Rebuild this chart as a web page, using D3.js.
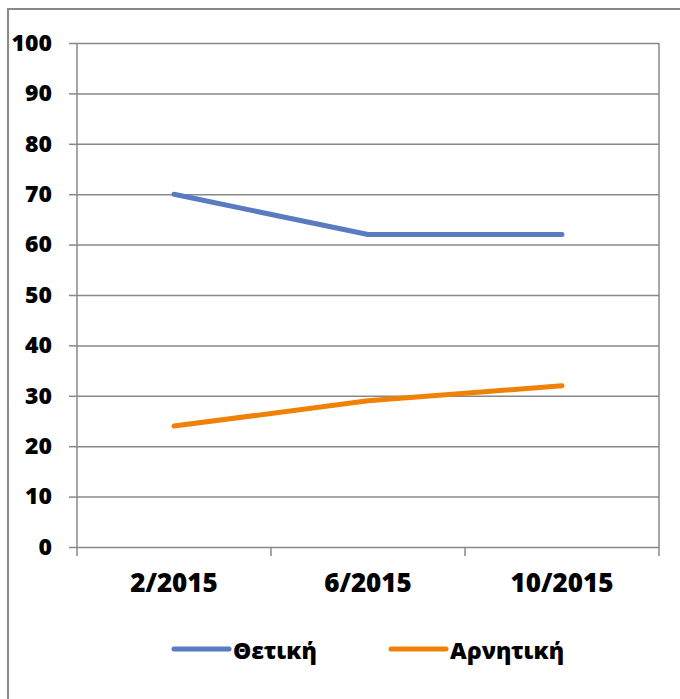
<!DOCTYPE html>
<html>
<head>
<meta charset="utf-8">
<script src="https://cdn.jsdelivr.net/npm/d3@7"></script>
<style>
  body { margin: 0; background: #fff; }
  svg text { font-family: "Open Sans", "Noto Sans", sans-serif; font-weight: 800; fill: #000; }
  .axis path { display: none; }
  .axis line { stroke: #888; stroke-width: 1.5; }
</style>
</head>
<body>
<div id="chart"></div>
<script>
// data
const categories = ['2/2015', '6/2015', '10/2015'];
const positive = [70, 62, 62];   // Θετική
const negative = [24, 29, 32];   // Αρνητική
const yTicks = [0, 10, 20, 30, 40, 50, 60, 70, 80, 90, 100];
const seriesNames = ['Θετική', 'Αρνητική'];
const seriesColors = ['#5A7BC1', '#EF8106'];

const width = 680;
const height = 699;
const plotLeft = 77, plotRight = 659, plotTop = 43, plotBottom = 547;

const svg = d3.select('#chart').append('svg')
  .attr('width', width)
  .attr('height', height);

// outer frame (only left/top visible in the picture)
svg.append('rect')
  .attr('x', 8).attr('y', 9)
  .attr('width', 700).attr('height', 720)
  .attr('fill', 'none')
  .attr('stroke', '#888')
  .attr('stroke-width', 2);

const x = d3.scaleBand().domain(categories).range([plotLeft, plotRight]);
const y = d3.scaleLinear().domain([0, 100]).range([plotBottom, plotTop]);

// y axis with gridlines
const yAxis = svg.append('g')
  .attr('class', 'axis')
  .attr('transform', `translate(${plotLeft},0)`)
  .call(d3.axisLeft(y).tickValues(yTicks).tickSize(8).tickPadding(17));
yAxis.selectAll('.tick text').style('font-size', '23px');
yAxis.selectAll('.tick')
  .append('line')
  .attr('x1', 0)
  .attr('x2', plotRight - plotLeft);

// vertical lines at band edges (axis line and ticks below)
const edges = categories.map((c) => x(c)).concat([plotRight]);
svg.selectAll('.edge')
  .data(edges)
  .enter()
  .append('line')
  .attr('class', 'edge')
  .attr('x1', (d) => d).attr('x2', (d) => d)
  .attr('y1', (d, i) => (i === 0 || i === edges.length - 1) ? plotTop : plotBottom)
  .attr('y2', plotBottom + 9)
  .attr('stroke', '#888')
  .attr('stroke-width', 1.5);

// category labels
svg.selectAll('.xlabel')
  .data(categories)
  .enter()
  .append('text')
  .attr('class', 'xlabel')
  .attr('x', (d) => x(d) + x.bandwidth() / 2)
  .attr('y', 592)
  .attr('text-anchor', 'middle')
  .style('font-size', '26px')
  .text((d) => d);

// lines
const line = d3.line()
  .x((d, i) => x(categories[i]) + x.bandwidth() / 2)
  .y((d) => y(d));

[positive, negative].forEach((values, k) => {
  svg.append('path')
    .datum(values)
    .attr('d', line)
    .attr('fill', 'none')
    .attr('stroke', seriesColors[k])
    .attr('stroke-width', 5)
    .attr('stroke-linecap', 'round')
    .attr('stroke-linejoin', 'round');
});

// legend
const legendX = [174, 391];
const legend = svg.selectAll('.legend')
  .data(seriesNames)
  .enter()
  .append('g')
  .attr('class', 'legend')
  .attr('transform', (d, i) => `translate(${legendX[i]},649)`);
legend.append('line')
  .attr('x1', 0).attr('x2', 55)
  .attr('stroke', (d, i) => seriesColors[i])
  .attr('stroke-width', 5)
  .attr('stroke-linecap', 'round');
legend.append('text')
  .attr('x', 59)
  .attr('y', 10)
  .style('font-size', '23px')
  .text((d) => d);
</script>
</body>
</html>
